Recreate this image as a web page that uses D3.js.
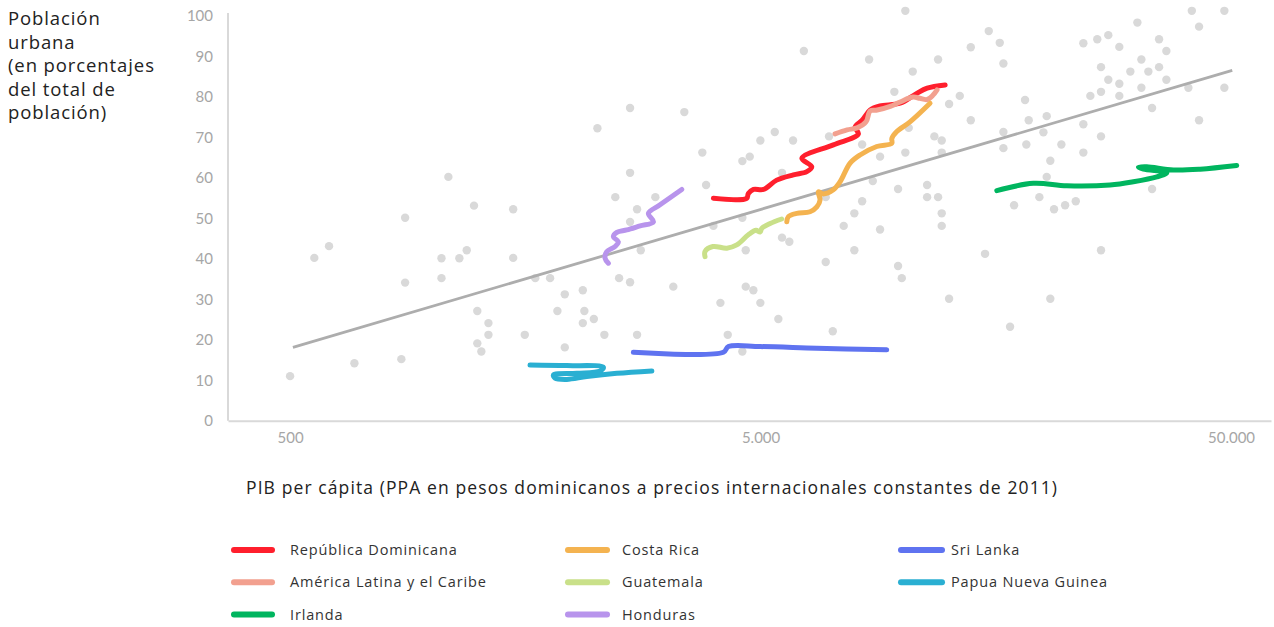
<!DOCTYPE html>
<html>
<head>
<meta charset="utf-8">
<script src="https://cdn.jsdelivr.net/npm/d3@7"></script>
<style>
  body { margin: 0; background: #fff; }
  text { font-family: Lato, "Noto Sans", sans-serif; }
  .lbl { font-family: "Open Sans", "Noto Sans", sans-serif; }
</style>
</head>
<body>
<svg id="chart" width="1274" height="627"></svg>
<script>
// puntos de todos los paises (PIB per capita, poblacion urbana %)
var dotGdp = [500, 563, 605, 685, 862, 878, 878, 1049, 1049, 1085, 1145, 1187, 1230, 1250, 1320, 1320, 1250, 1275,
  1490, 1490, 1660, 1785, 1577, 1918, 1850, 2095, 2111, 2211, 2095, 1918, 2328, 2250, 2640, 2640, 2456, 2732,
  2988, 2640, 2782, 2502, 2640, 2732, 3443, 3760, 3830, 3970, 3262, 4574, 4742, 4574, 4650, 4650, 4827, 4108,
  4258, 4574, 4995, 4995, 10155, 6180, 8505, 10530, 11920, 9624, 13255, 12580, 13990, 15275, 16120, 16410,
  13990, 5360, 5862, 5553, 6990, 8220, 10325, 11705, 12135, 12135, 10155, 8974, 8660, 6878, 8220, 7912, 9800,
  11297, 11297, 11920, 12135, 12135, 7511, 8974, 5553, 5756, 7912, 6878, 9800, 9980, 5455, 7120, 12580, 15000,
  16410, 16410, 16955, 18245, 18575, 20285, 19960, 18360, 21795, 20645, 20285, 17290, 19570, 21025, 22195,
  23385, 20645, 24270, 25980, 27420, 28940, 31615, 26460, 27420, 28940, 26460, 25115, 28940, 24270, 24270,
  26460, 26460, 32240, 30545, 33360, 35155, 36435, 35155, 36435, 32240, 33970, 33970, 41270, 48390, 42755,
  40580, 48390, 42755];
var dotUrban = [11.0, 40.2, 43.1, 14.2, 15.2, 50.1, 34.1, 40.1, 35.2, 60.2, 40.1, 42.1, 53.1, 27.1, 24.1, 21.2, 19.1, 17.1,
  52.2, 40.2, 35.2, 35.2, 21.2, 31.2, 27.1, 32.2, 27.1, 25.1, 24.1, 18.1, 21.2, 72.2, 77.2, 61.2, 55.2, 52.2,
  55.2, 49.1, 42.1, 35.2, 34.2, 21.2, 76.2, 66.2, 58.2, 48.1, 33.1, 64.1, 65.2, 50.1, 42.1, 33.1, 32.2, 29.1,
  21.2, 17.1, 69.2, 29.1, 101.2, 91.3, 89.2, 86.2, 89.2, 81.2, 80.2, 78.2, 92.2, 96.2, 93.3, 88.2,
  74.2, 71.3, 69.2, 61.2, 70.2, 68.2, 72.3, 70.2, 69.2, 66.2, 66.2, 65.2, 59.2, 55.2, 54.2, 51.2, 57.2,
  58.2, 55.2, 55.2, 51.2, 48.1, 48.1, 47.2, 45.2, 44.2, 42.1, 39.2, 38.2, 35.2, 25.1, 22.1, 30.1, 41.2,
  71.3, 67.3, 23.2, 79.2, 74.2, 75.2, 71.2, 68.2, 68.2, 64.2, 60.2, 53.2, 55.2, 52.2, 53.2,
  54.2, 30.1, 93.2, 94.2, 95.2, 92.3, 98.3, 87.3, 84.2, 83.2, 81.2, 80.2, 80.2, 73.2, 66.2,
  70.2, 42.1, 89.2, 86.2, 86.2, 94.2, 91.3, 87.3, 84.2, 82.2, 77.2, 57.2, 101.2, 101.2, 97.3,
  82.2, 82.2, 74.2];

// tendencia
var trendGdp = [507, 50300];
var trendUrban = [18.1, 86.5];

// trayectorias
var repDominicana = [[3970, 54.9], [4670, 54.9], [4710, 56.1], [4830, 57.1], [5070, 57.1], [5410, 59.4], [5870, 60.7],
  [6270, 61.5], [6425, 62.7], [6120, 64.8], [7140, 68.1], [8070, 70.8], [7940, 72.5], [8220, 74.2], [8550, 76.7],
  [8970, 77.7], [9900, 78.4], [10700, 80.7], [11300, 82.1], [12340, 82.9]];
var americaLatina = [[7200, 70.8], [7635, 71.8], [8020, 72.3], [8380, 73.8], [8550, 76.5], [8850, 76.7], [9430, 77.6],
  [9900, 78.7], [10550, 79.9], [10900, 79.6], [11300, 79.3], [11630, 80.4], [11860, 81.7]];
var irlanda = [[15890, 56.8], [19000, 58.6], [22380, 58.0], [27660, 58.2], [31000, 59.0], [34770, 60.2], [36510, 61.2],
  [32560, 62.1], [31770, 62.6], [33110, 62.7], [37700, 61.9], [42980, 62.1], [51400, 63.0]];
var costaRica = [[5685, 49.1], [5730, 50.4], [5970, 51.2], [6370, 51.6], [6585, 52.8], [6690, 54.5], [6635, 56.5],
  [6800, 56.0], [7140, 57.0], [7380, 59.0], [7750, 63.6], [8135, 65.6], [8830, 67.7], [9505, 68.5], [9505, 69.7],
  [9740, 71.4], [10390, 73.8], [11460, 78.4]];
var guatemala = [[3810, 40.5], [3810, 41.8], [3960, 43.0], [4240, 42.6], [4450, 43.4], [4710, 45.9], [4890, 47.0],
  [4990, 46.6], [5030, 47.5], [5240, 48.7], [5545, 49.8]];
var honduras = [[2374, 38.9], [2336, 40.1], [2355, 41.7], [2453, 43.0], [2493, 44.2], [2433, 45.4], [2474, 46.5],
  [2598, 47.1], [2773, 48.1], [2960, 49.1], [2888, 51.2], [3057, 53.3], [3400, 57.1]];
var sriLanka = [[2683, 16.9], [4168, 16.9], [4272, 18.3], [4989, 18.3], [6585, 17.9], [9270, 17.5]];
var papua = [[1618, 13.75], [1937, 13.6], [2317, 13.2], [2280, 12.3], [2035, 11.7], [1814, 11.3], [1829, 10.5],
  [1937, 10.2], [2136, 10.9], [2474, 11.7], [2937, 12.3]];

var seriesNames = ["República Dominicana", "América Latina y el Caribe", "Irlanda", "Costa Rica", "Guatemala",
  "Honduras", "Sri Lanka", "Papua Nueva Guinea"];
var seriesData = [repDominicana, americaLatina, irlanda, costaRica, guatemala, honduras, sriLanka, papua];
var seriesColors = ["#ff1f2d", "#f2a08f", "#00b55f", "#f4b350", "#c9e089", "#b894ec", "#5f73f0", "#2aafd2"];

var yTicks = [0, 10, 20, 30, 40, 50, 60, 70, 80, 90, 100];
var xTicks = [500, 5000, 50000];

var svg = d3.select("#chart");

var x = d3.scaleLog().domain([369, 60800]).range([228, 1271]);
var y = d3.scaleLinear().domain([0, 100]).range([420.7, 15.7]);

var es = d3.formatLocale({decimal: ",", thousands: ".", grouping: [3], currency: ["", ""]});

// ejes
var yAxis = svg.append("g")
  .attr("transform", "translate(228,0)")
  .call(d3.axisLeft(y).tickValues(yTicks).tickSize(0).tickPadding(15));
yAxis.select(".domain").attr("stroke", "#d9d9d9").attr("stroke-width", 2).attr("d", "M0," + y(0) + "V13");
yAxis.selectAll("text").attr("fill", "#a6a6a6").style("font-size", "15px");

var xAxis = svg.append("g")
  .attr("transform", "translate(0," + y(0) + ")")
  .call(d3.axisBottom(x).tickValues(xTicks).tickFormat(es.format(",")).tickSize(0).tickSizeOuter(0).tickPadding(12));
xAxis.select(".domain").attr("stroke", "#d9d9d9").attr("stroke-width", 2);
xAxis.selectAll("text").attr("fill", "#a6a6a6").style("font-size", "15px");

// puntos
svg.append("g")
  .selectAll("circle")
  .data(dotGdp)
  .enter()
  .append("circle")
  .attr("cx", function(d) { return x(d); })
  .attr("cy", function(d, i) { return y(dotUrban[i]); })
  .attr("r", 4.2)
  .attr("fill", "#d9d9d9");

// linea de tendencia
svg.append("line")
  .attr("x1", x(trendGdp[0]))
  .attr("y1", y(trendUrban[0]))
  .attr("x2", x(trendGdp[1]))
  .attr("y2", y(trendUrban[1]))
  .attr("stroke", "#adadad")
  .attr("stroke-width", 2.8);

var line = d3.line()
  .x(function(d) { return x(d[0]); })
  .y(function(d) { return y(d[1]); })
  .curve(d3.curveCatmullRom.alpha(0.5));

svg.append("g")
  .selectAll("path")
  .data(seriesData)
  .enter()
  .append("path")
  .attr("d", line)
  .attr("fill", "none")
  .attr("stroke", function(d, i) { return seriesColors[i]; })
  .attr("stroke-width", 5)
  .attr("stroke-linecap", "round")
  .attr("stroke-linejoin", "round");

// titulos
var yTitle = ["Población", "urbana", "(en porcentajes", "del total de", "población)"];
svg.append("g")
  .selectAll("text")
  .data(yTitle)
  .enter()
  .append("text")
  .attr("class", "lbl")
  .attr("x", 8)
  .attr("y", function(d, i) { return 25 + i * 23.6; })
  .attr("fill", "#222")
  .style("font-size", "18.5px")
  .style("letter-spacing", "0.9px")
  .text(function(d) { return d; });

svg.append("text")
  .attr("class", "lbl")
  .attr("x", 246)
  .attr("y", 494)
  .attr("fill", "#222")
  .style("font-size", "17.5px")
  .style("letter-spacing", "1.1px")
  .text("PIB per cápita (PPA en pesos dominicanos a precios internacionales constantes de 2011)");

// leyenda
var legendCol = [0, 0, 0, 1, 1, 1, 2, 2];
var legendRow = [0, 1, 2, 0, 1, 2, 0, 1];
var colLineStart = [234, 568, 901];
var colLineEnd = [272, 607, 942];
var colTextX = [290, 622, 951];

var legend = svg.append("g")
  .selectAll("g")
  .data(seriesNames)
  .enter()
  .append("g")
  .attr("transform", function(d, i) { return "translate(0," + (550 + legendRow[i] * 32.3) + ")"; });

legend.append("line")
  .attr("x1", function(d, i) { return colLineStart[legendCol[i]]; })
  .attr("x2", function(d, i) { return colLineEnd[legendCol[i]]; })
  .attr("stroke", function(d, i) { return seriesColors[i]; })
  .attr("stroke-width", 6)
  .attr("stroke-linecap", "round");

legend.append("text")
  .attr("class", "lbl")
  .attr("x", function(d, i) { return colTextX[legendCol[i]]; })
  .attr("y", 5)
  .attr("fill", "#333")
  .style("font-size", "14.5px")
  .style("letter-spacing", "0.85px")
  .text(function(d) { return d; });
</script>
</body>
</html>
